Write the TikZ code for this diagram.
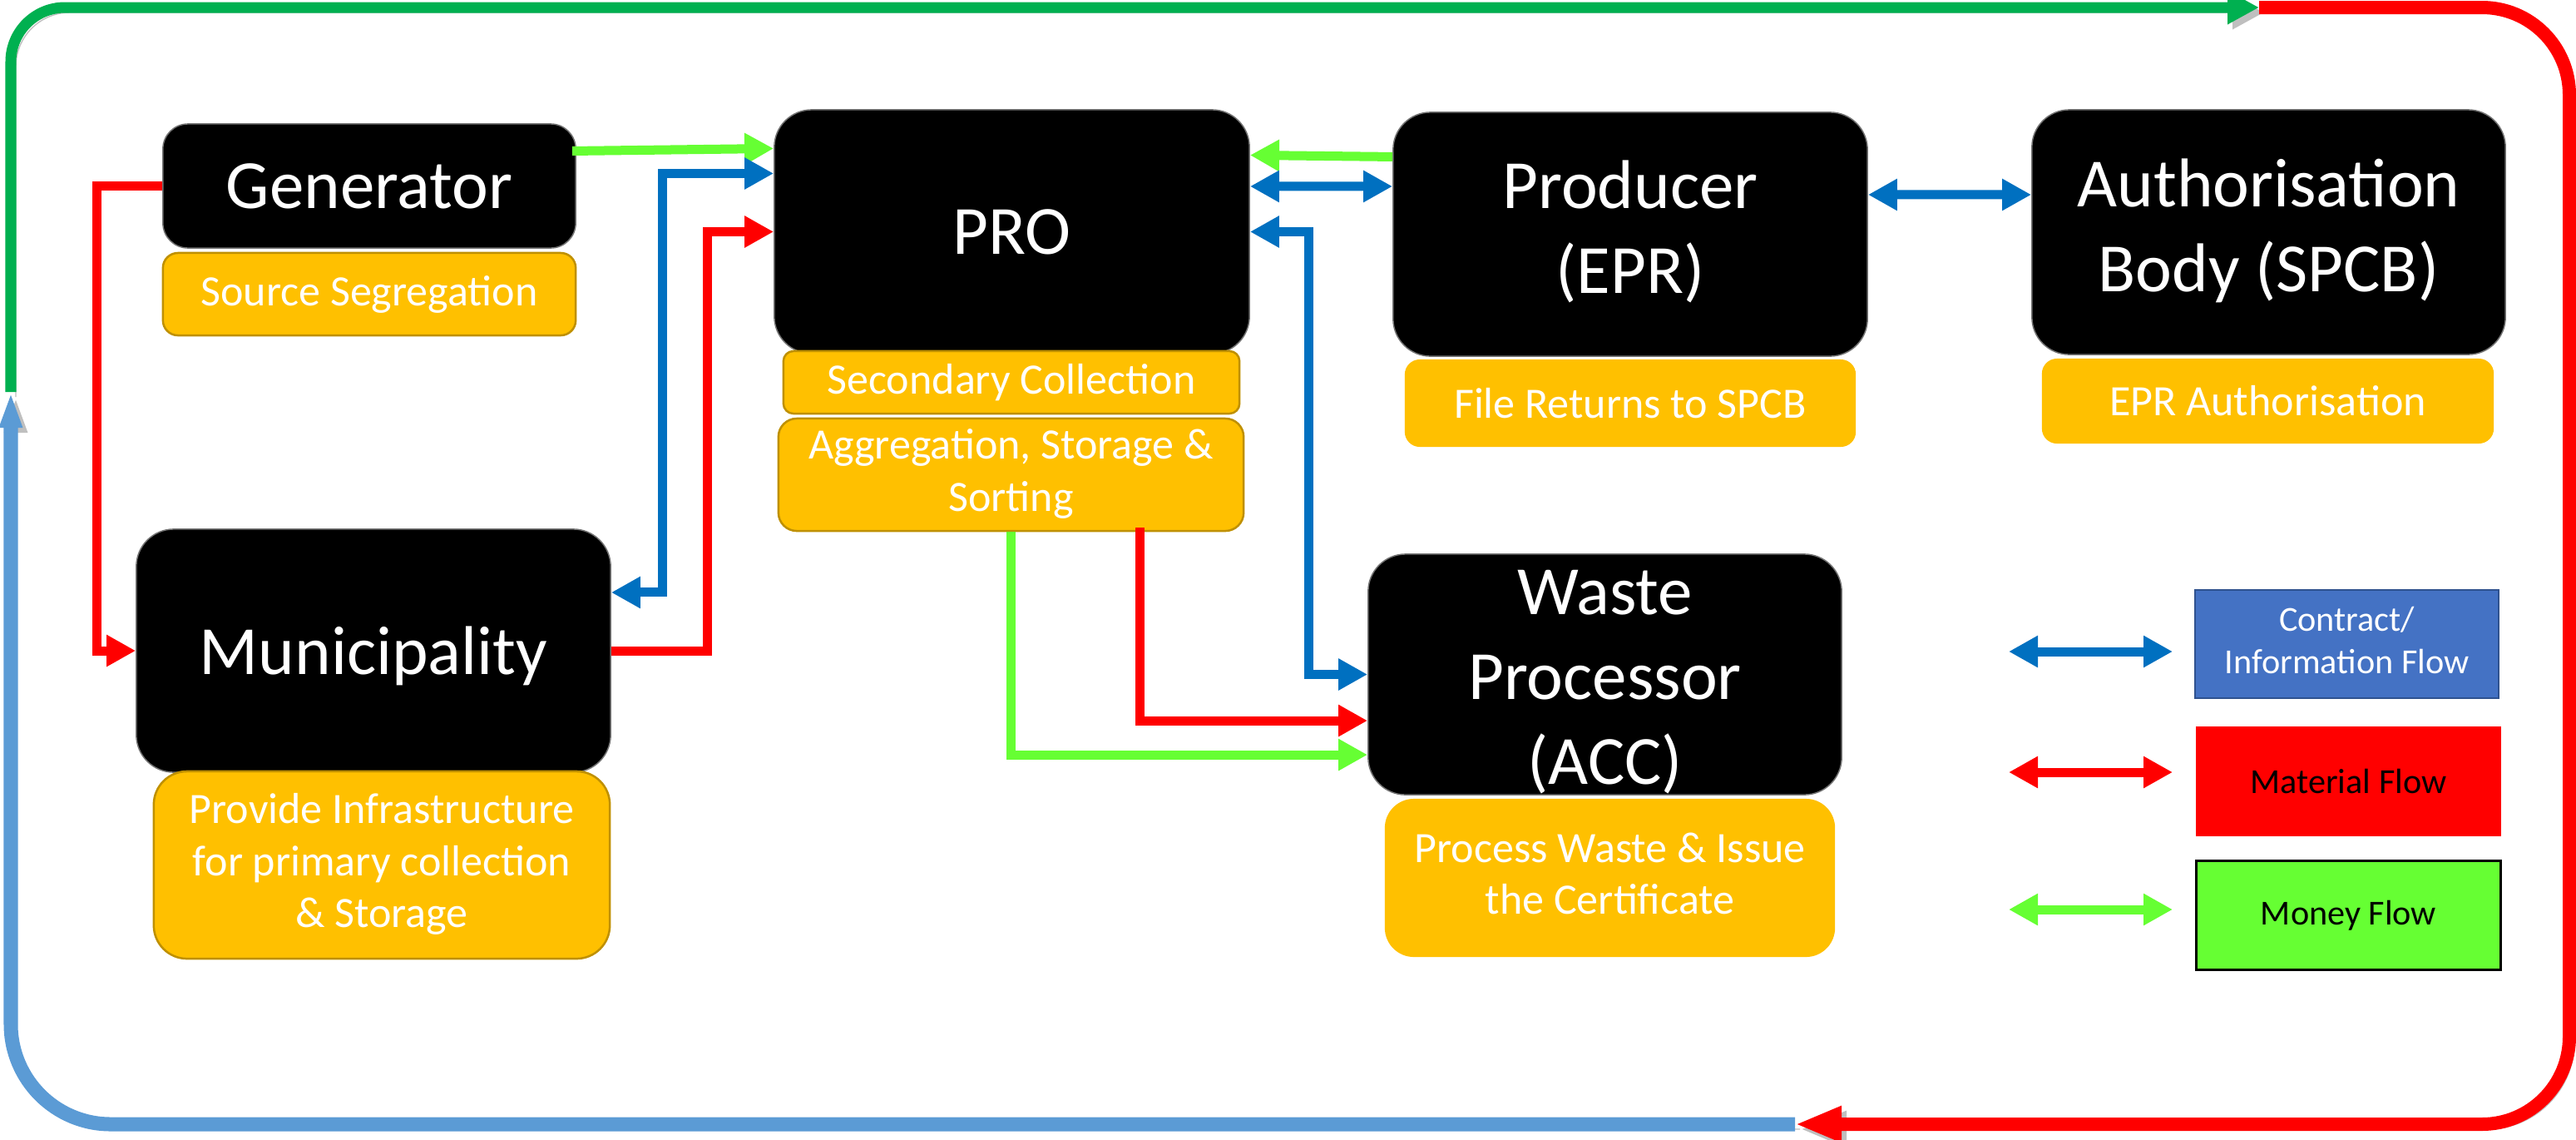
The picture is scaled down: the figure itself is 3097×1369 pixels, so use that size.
\documentclass[tikz,border=0pt]{standalone}
\usepackage{fontspec}
\setmainfont{Carlito}
\usetikzlibrary{arrows.meta}

\definecolor{matred}{HTML}{FF0000}
\definecolor{infoblue}{HTML}{0070C0}
\definecolor{moneygreen}{HTML}{66FF33}
\definecolor{framegreen}{HTML}{00B050}
\definecolor{frameblue}{HTML}{5B9BD5}
\definecolor{taskorange}{HTML}{FFC000}
\definecolor{taskedge}{HTML}{BF9000}
\definecolor{keyblue}{HTML}{4472C4}
\definecolor{keyedge}{HTML}{2F528F}

\newcommand{\actorfont}{\fontsize{23.6pt}{29pt}\selectfont}
\newcommand{\taskfont}{\fontsize{14.8pt}{17.8pt}\selectfont}
\newcommand{\keyfont}{\fontsize{12pt}{14.5pt}\selectfont}

\tikzset{
	actor/.style = {fill=black, draw=black!55, line width=0.015cm, rounded corners=0.45cm, text=white, font=\actorfont, inner sep=0pt},
	task/.style = {fill=taskorange, rounded corners=0.18cm, text=white, font=\taskfont, inner sep=0pt},
	taskline/.style = {task, draw=taskedge, line width=0.025cm},
	keybox/.style = {minimum width=3.65cm, minimum height=1.30cm, font=\keyfont, inner sep=0pt, line width=0.025cm},
	flow/.style = {line width=0.11cm, >={Triangle[length=0.35cm, width=0.36cm]}},
	matflow/.style = {flow, draw=matred},
	infoflow/.style = {flow, draw=infoblue},
	moneyflow/.style = {flow, draw=moneygreen},
	loopshade/.style = {preaction={draw=black!25, transform canvas={xshift=0.06cm, yshift=-0.06cm}}},
	greenloop/.style = {loopshade, draw=framegreen, line width=0.13cm},
	redloop/.style = {loopshade, draw=matred, line width=0.16cm},
	blueloop/.style = {loopshade, draw=frameblue, line width=0.17cm}
}

\begin{document}
\begin{tikzpicture}[x=0.01cm, y=-0.01cm]
	\useasboundingbox [fill=white] (0, 0) rectangle (3097, 1369);

	\coordinate (ml) at (13, 471);
	\coordinate (mt) at (2716, 9);
	\coordinate (mr) at (3089, 1351);
	\coordinate (mb) at (2158, 1351);
	\draw [greenloop, rounded corners=0.65cm, -{Triangle[length=0.38cm, width=0.38cm]}] (ml) |- (mt);
	\draw [redloop, rounded corners=1.05cm, -{Triangle[length=0.56cm, width=0.40cm]}] (mt) -| (mr) -- (mb);
	\draw [blueloop, rounded corners=1.2cm, -{Triangle[length=0.43cm, width=0.25cm]}] (mb) -| (ml);

	\node (gen) at (444, 223.5) [actor, rounded corners=0.3cm, minimum width=4.96cm, minimum height=1.49cm] {Generator};
	\node (seg) at (444, 353.5) [taskline, minimum width=4.96cm, minimum height=0.99cm] {Source Segregation};
	\node (pro) at (1216.5, 278.5) [actor, minimum width=5.71cm, minimum height=2.93cm] {PRO};
	\node (sec) at (1216, 459.5) [taskline, rounded corners=0.12cm, minimum width=5.48cm, minimum height=0.75cm] {Secondary Collection};
	\node (agg) at (1215.5, 570.5) [taskline, rounded corners=0.22cm, minimum width=5.59cm, minimum height=1.35cm] {\begin{tabular}{c}Aggregation, Storage \&\\Sorting\end{tabular}};
	\node (prod) at (1960, 281.5) [actor, minimum width=5.70cm, minimum height=2.93cm] {\begin{tabular}{c}Producer\\(EPR)\end{tabular}};
	\node (ret) at (1960, 484.5) [task, minimum width=5.42cm, minimum height=1.05cm] {File Returns to SPCB};
	\node (spcb) at (2727.5, 279) [actor, minimum width=5.69cm, minimum height=2.94cm] {\begin{tabular}{c}Authorisation\\Body (SPCB)\end{tabular}};
	\node (auth) at (2726.5, 482) [task, minimum width=5.43cm, minimum height=1.02cm] {EPR Authorisation};
	\node (mun) at (449, 782) [actor, text depth=0pt, minimum width=5.70cm, minimum height=2.92cm] {Municipality};
	\node (infra) at (459, 1039.5) [taskline, rounded corners=0.4cm, minimum width=5.48cm, minimum height=2.25cm] {\begin{tabular}{c}Provide Infrastructure\\for primary collection\\\& Storage\end{tabular}};
	\node (acc) at (1929.5, 810.5) [actor, minimum width=5.69cm, minimum height=2.89cm] {\smash{\raisebox{-0.38em}{\begin{tabular}{c}Waste\\Processor\\(ACC)\end{tabular}}}};
	\node (cert) at (1935.5, 1055) [task, rounded corners=0.35cm, minimum width=5.41cm, minimum height=1.90cm] {\begin{tabular}{c}Process Waste \& Issue\\the Certificate\end{tabular}};

	\draw [matflow, ->] (gen.west) -- ++(-79, 0) |- (mun.west);
	\draw [moneyflow, ->] ([xshift=-0.05cm, yshift=0.42cm]gen.east) -- ([yshift=1cm]pro.west);
	\draw [infoflow, <->] ([yshift=0.7cm]pro.west) -- ++(-134, 0) |- ([yshift=0.7cm]mun.east);
	\draw [matflow, ->] (mun.east) -- ++(116, 0) |- (pro.west);
	\draw [moneyflow, ->] ([yshift=0.93cm]prod.west) -- ([yshift=0.92cm]pro.east);
	\draw [infoflow, <->] ([yshift=0.545cm]pro.east) -- ([yshift=0.575cm]prod.west);
	\draw [infoflow, <->] (pro.east) -- ++(71, 0) |- (acc.west);
	\draw [matflow, ->] ([xshift=1.545cm, yshift=0.05cm]agg.south) |- ([yshift=-0.555cm]acc.west);
	\draw [moneyflow, ->] (agg.south) |- ([yshift=-0.965cm]acc.west);
	\draw [infoflow, <->] ([yshift=0.475cm]prod.east) -- ([yshift=0.45cm]spcb.west);

	\node (kinfo) at (2821.5, 774) [keybox, fill=keyblue, draw=keyedge, text=white] {\begin{tabular}{c}Contract/\\Information Flow\end{tabular}};
	\node (kmat) at (2823.5, 939) [keybox, fill=matred, draw=matred] {Material Flow};
	\node (kmoney) at (2823.5, 1100) [keybox, fill=moneygreen, draw=black, line width=0.03cm] {Money Flow};
	\coordinate (kia) at (2415, 783);
	\coordinate (kib) at (2612, 783);
	\coordinate (kma) at (2415, 928);
	\coordinate (kmb) at (2612, 928);
	\coordinate (kga) at (2415, 1093);
	\coordinate (kgb) at (2612, 1093);
	\draw [infoflow, <->] (kia) -- (kib);
	\draw [matflow, <->] (kma) -- (kmb);
	\draw [moneyflow, <->] (kga) -- (kgb);
\end{tikzpicture}
\end{document}
